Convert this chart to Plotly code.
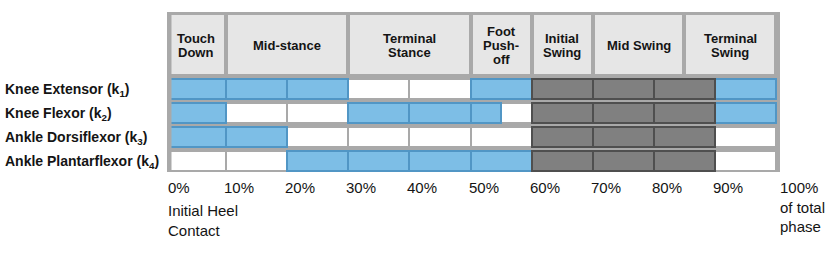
import plotly.graph_objects as go

# ---------------- data ----------------
PHASE_LABELS = ["Touch\nDown", "Mid-stance", "Terminal\nStance", "Foot\nPush-\noff",
                "Initial\nSwing", "Mid Swing", "Terminal\nSwing"]
PHASE_START = [0, 10, 30, 50, 60, 70, 85]
PHASE_END = [10, 30, 50, 60, 70, 85, 100]

MUSCLES = ["Knee Extensor (k<sub>1</sub>)", "Knee Flexor (k<sub>2</sub>)",
           "Ankle Dorsiflexor (k<sub>3</sub>)", "Ankle Plantarflexor (k<sub>4</sub>)"]
KNEE_EXTENSOR_ON = [[0, 30], [50, 60], [90, 100]]
KNEE_FLEXOR_ON = [[0, 10], [30, 55], [90, 100]]
ANKLE_DORSIFLEXOR_ON = [[0, 20]]
ANKLE_PLANTARFLEXOR_ON = [[20, 60]]
SWING_GREY = [60, 90]

COLUMN_EDGES = [0, 10, 20, 30, 40, 50, 60, 70, 80, 90, 100]
TICK_LABELS = ["0%", "10%", "20%", "30%", "40%", "50%", "60%", "70%", "80%", "90%", "100%"]

# ---------------- styling ----------------
FRAME = "#a9a9a9"
HEADER_FILL = "#e6e6e6"
BLUE = "#7dbee6"
BLUE_EDGE = "#5196c5"
GREY = "#808080"
GREY_EDGE = "#4f4f4f"
FONT = "Liberation Sans"
TXT = "#141414"

ROW_ON = [KNEE_EXTENSOR_ON, KNEE_FLEXOR_ON, ANKLE_DORSIFLEXOR_ON, ANKLE_PLANTARFLEXOR_ON]

cells = {"blue": ([], [], []), "white": ([], [], []), "grey": ([], [], [])}
for r, on in enumerate(ROW_ON):
    row_y = r + 1
    for a, b in zip(COLUMN_EDGES[:-1], COLUMN_EDGES[1:]):
        pts = {a, b}
        for s, e in on + [SWING_GREY]:
            for p in (s, e):
                if a < p < b:
                    pts.add(p)
        pts = sorted(pts)
        for c0, c1 in zip(pts[:-1], pts[1:]):
            m = (c0 + c1) / 2
            if SWING_GREY[0] <= m < SWING_GREY[1]:
                k = "grey"
            elif any(s <= m < e for s, e in on):
                k = "blue"
            else:
                k = "white"
            cells[k][0].append(row_y)
            cells[k][1].append(c1 - c0)
            cells[k][2].append(c0)

fig = go.Figure()

HEADER_Y = -0.854
fig.add_trace(go.Bar(
    orientation="h", y=[HEADER_Y] * len(PHASE_START),
    x=[e - s for s, e in zip(PHASE_START, PHASE_END)], base=PHASE_START,
    width=2.625, marker=dict(color=HEADER_FILL, line=dict(color=FRAME, width=4)),
    hoverinfo="skip", showlegend=False))

styles = {"white": ("#ffffff", FRAME), "blue": (BLUE, BLUE_EDGE), "grey": (GREY, GREY_EDGE)}
for k in ["white", "blue", "grey"]:
    ys, ws, bs = cells[k]
    fill, edge = styles[k]
    fig.add_trace(go.Bar(
        orientation="h", y=ys, x=ws, base=bs, width=0.86,
        marker=dict(color=fill, line=dict(color=edge, width=2)),
        hoverinfo="skip", showlegend=False))

ann = []
# header labels, line by line (tight line spacing)
for lab, s, e in zip(PHASE_LABELS, PHASE_START, PHASE_END):
    lines = lab.split("\n")
    n = len(lines)
    for i, ln in enumerate(lines):
        ann.append(dict(x=(s + e) / 2, y=HEADER_Y, xref="x", yref="y", text=ln,
                        showarrow=False, xanchor="center", yanchor="middle",
                        yshift=((n - 1) / 2 - i) * 13.8 - 1,
                        font=dict(family=FONT, size=13, color=TXT, weight="bold")))

# row labels
for r, m in enumerate(MUSCLES):
    ann.append(dict(x=-0.2675, y=r + 1, xref="paper", yref="y", text=m, showarrow=False,
                    xanchor="left", yanchor="middle", yshift=-1,
                    font=dict(family=FONT, size=14, color=TXT, weight="bold")))

# percentage labels
for v, t in zip(COLUMN_EDGES, TICK_LABELS):
    d = dict(x=v, xref="x", xshift=-4)
    if v == COLUMN_EDGES[0]:
        d = dict(x=0, xref="paper", xshift=-1)
    if v == COLUMN_EDGES[-1]:
        d = dict(x=v, xref="x", xshift=2)
        t = t + "<br>of total<br>phase"
    multi = "<br>" in t
    ann.append(dict(**d, y=-0.1, yref="paper", text=t, showarrow=False,
                    xanchor="left", yanchor="top" if multi else "middle",
                    yshift=11 if multi else 1, align="left",
                    font=dict(family=FONT, size=15, color=TXT)))
ann.append(dict(x=0, xref="paper", xshift=-1, y=-0.178, yref="paper",
                text="Initial Heel<br>Contact", showarrow=False, xanchor="left",
                yanchor="top", align="left",
                font=dict(family=FONT, size=15, color=TXT)))

fig.update_layout(
    width=830, height=260,
    margin=dict(l=167, r=50, t=12, b=88),
    paper_bgcolor="white", plot_bgcolor=FRAME,
    barmode="overlay", bargap=0,
    xaxis=dict(range=[0.327, 100.65], visible=False, fixedrange=True),
    yaxis=dict(range=[4.4583, -2.2083], visible=False, fixedrange=True),
    annotations=ann,
    shapes=[dict(type="rect", xref="paper", yref="paper", x0=0, x1=4.5 / 613, y0=0, y1=1,
                 fillcolor=FRAME, line=dict(width=0), layer="above")],
)

fig.write_html("out.html", config={"displayModeBar": False},
               post_script="document.body.style.margin='0';")
